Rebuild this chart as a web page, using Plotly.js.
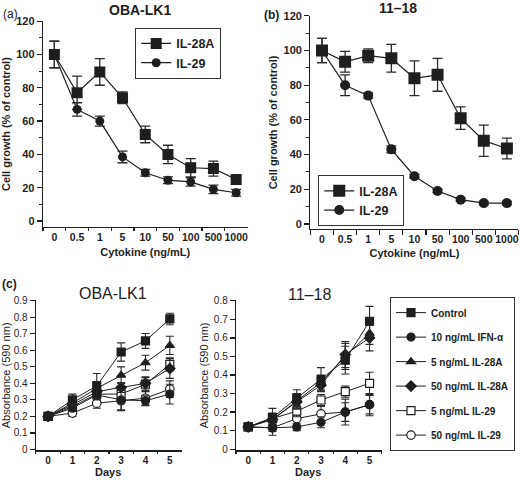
<!DOCTYPE html>
<html><head><meta charset="utf-8">
<script src="https://cdn.plot.ly/plotly-3.0.1.min.js"></script>
<style>html,body{margin:0;padding:0;background:#fff}#chart{width:520px;height:480px}</style>
</head><body><div id="chart"></div>
<script>
// ---- Data ----
const doseLabels = ["0","0.5","1","5","10","50","100","500","1000"];
const aIL28A = [100,77,89.5,74,52,40,32,31.5,25];
const aIL28AErr = [8,10,8,3.5,5,5.5,5.5,4.5,2.5];
const aIL29 = [100,67,60,38.5,29,24.5,23.5,19,17];
const aIL29Err = [8,4,3,3.5,2,2,2.5,2.5,2];
const bIL28A = [100,93.5,97,95.5,84,86,61,48,43.5];
const bIL28AErr = [7,6,4,8,10,9.5,6.5,9,6];
const bIL29 = [100,80,74,43,27.5,19,14,12,12];
const bIL29Err = [7,6,1.5,2,1,1,1,1,1];

const days = ["0","1","2","3","4","5"];
const seriesNames = ["Control","10 ng/mL IFN-α","5 ng/mL IL-28A","50 ng/mL IL-28A","5 ng/mL IL-29","50 ng/mL IL-29"];

// OBA-LK1 absorbance
const c1Control = [0.2,0.30,0.385,0.59,0.657,0.79];
const c1ControlErr = [0,0.035,0.075,0.055,0.045,0.035];
const c1IFN = [0.2,0.25,0.33,0.30,0.295,0.335];
const c1IFNErr = [0,0.02,0.03,0.06,0.03,0.06];
const c1IL28A5 = [0.2,0.28,0.37,0.45,0.525,0.63];
const c1IL28A5Err = [0,0.03,0.04,0.05,0.045,0.055];
const c1IL28A50 = [0.2,0.27,0.35,0.375,0.40,0.49];
const c1IL28A50Err = [0,0.03,0.03,0.03,0.04,0.06];
const c1IL295 = [0.2,0.26,0.335,0.335,0.395,0.515];
const c1IL295Err = [0,0.03,0.03,0.04,0.04,0.04];
const c1IL2950 = [0.2,0.22,0.28,0.295,0.31,0.365];
const c1IL2950Err = [0,0.02,0.03,0.06,0.04,0.05];

// 11-18 absorbance
const c2Control = [0.12,0.17,0.275,0.375,0.48,0.69];
const c2ControlErr = [0,0.05,0.045,0.065,0.075,0.08];
const c2IFN = [0.12,0.115,0.12,0.145,0.20,0.24];
const c2IFNErr = [0,0.02,0.02,0.03,0.05,0.05];
const c2IL28A5 = [0.12,0.16,0.26,0.36,0.50,0.625];
const c2IL28A5Err = [0,0.03,0.04,0.04,0.07,0.06];
const c2IL28A50 = [0.12,0.16,0.255,0.345,0.51,0.60];
const c2IL28A50Err = [0,0.03,0.04,0.03,0.07,0.07];
const c2IL295 = [0.12,0.165,0.205,0.265,0.31,0.355];
const c2IL295Err = [0,0.03,0.03,0.03,0.03,0.06];
const c2IL2950 = [0.12,0.115,0.165,0.19,0.20,0.24];
const c2IL2950Err = [0,0.04,0.04,0.04,0.07,0.06];

// ---- Styling ----
const INK = '#1e1e1e';
const FONT = 'Liberation Sans, Arial, Helvetica, sans-serif';

function doseTrace(y, err, name, sym, size, xa, ya, legend) {
  return {
    type:'scatter', mode:'lines+markers', x: doseLabels, y: y, name: name,
    xaxis: xa, yaxis: ya, legend: legend,
    line:{color:INK, width:1.2},
    marker:{symbol:sym, size:size, color:INK, line:{width:0}},
    error_y:{type:'data', array:err, visible:true, color:'#2a2a2a', thickness:1.3, width:5}
  };
}

const cStyles = [
  {symbol:'square', fill:INK, size:8},
  {symbol:'circle', fill:INK, size:8},
  {symbol:'triangle-up', fill:INK, size:8},
  {symbol:'diamond', fill:INK, size:8},
  {symbol:'square', fill:'#ffffff', size:8},
  {symbol:'circle', fill:'#ffffff', size:8.5}
];

function dayTrace(y, err, idx, xa, ya, show) {
  const s = cStyles[idx];
  return {
    type:'scatter', mode:'lines+markers', x: days, y: y, name: seriesNames[idx],
    xaxis: xa, yaxis: ya, legend:'legend3', showlegend: show,
    legendgroup: 'g' + idx, legendrank: idx + 1,
    line:{color:INK, width:1},
    marker:{symbol:s.symbol, size:s.size, color:s.fill, line:{color:INK, width:1.2}},
    error_y:{type:'data', array:err, visible:true, color:'#2a2a2a', thickness:1.1, width:4}
  };
}

const traces = [
  doseTrace(aIL28A, aIL28AErr, 'IL-28A', 'square', 11, 'x', 'y', 'legend'),
  doseTrace(aIL29, aIL29Err, 'IL-29', 'circle', 9, 'x', 'y', 'legend'),
  doseTrace(bIL28A, bIL28AErr, 'IL-28A', 'square', 12, 'x2', 'y2', 'legend2'),
  doseTrace(bIL29, bIL29Err, 'IL-29', 'circle', 10, 'x2', 'y2', 'legend2'),
];
const c1Sets = [[c1Control,c1ControlErr],[c1IFN,c1IFNErr],[c1IL28A5,c1IL28A5Err],[c1IL28A50,c1IL28A50Err],[c1IL295,c1IL295Err],[c1IL2950,c1IL2950Err]];
const c2Sets = [[c2Control,c2ControlErr],[c2IFN,c2IFNErr],[c2IL28A5,c2IL28A5Err],[c2IL28A50,c2IL28A50Err],[c2IL295,c2IL295Err],[c2IL2950,c2IL2950Err]];
// draw lower series first so the control sits on top
[5,4,3,2,1,0].forEach(i => traces.push(dayTrace(c1Sets[i][0], c1Sets[i][1], i, 'x3', 'y3', false)));
[5,4,3,2,1,0].forEach(i => traces.push(dayTrace(c2Sets[i][0], c2Sets[i][1], i, 'x4', 'y4', true)));

const boldTick = {family:FONT, size:11, color:INK, weight:'bold'};
const boldTickX = {family:FONT, size:10.5, color:INK, weight:'bold'};
const regTick = {family:FONT, size:10, color:INK};

function catX(domain, anchor, range, tickfont, title, titleFont, standoff, ticklen) {
  const ax = {
    domain: domain, anchor: anchor, type:'category', range: range,
    tickson:'boundaries', ticks:'outside', ticklen: ticklen, tickwidth:1.2, tickcolor:INK,
    showline:true, linecolor:INK, linewidth:1.3, showgrid:false, zeroline:false,
    tickfont: tickfont, tickangle:0, fixedrange:true
  };
  if (title) ax.title = {text:title, font:titleFont, standoff:standoff};
  return ax;
}
function linY(domain, anchor, range, dtick, minorDtick, tickfont, title, titleFont, standoff) {
  const ax = {
    domain: domain, anchor: anchor, range: range, dtick: dtick, tick0:0,
    ticks:'outside', ticklen:5, tickwidth:1.2, tickcolor:INK,
    showline:true, linecolor:INK, linewidth:1.3, showgrid:false, zeroline:false,
    tickfont: tickfont, fixedrange:true,
    title:{text:title, font:titleFont, standoff:standoff}
  };
  if (minorDtick) ax.minor = {dtick:minorDtick, ticks:'outside', ticklen:3, tickwidth:1, tickcolor:INK, showgrid:false};
  return ax;
}

const boldTitle = {family:FONT, size:11, color:INK, weight:'bold'};
const regTitle = {family:FONT, size:11, color:INK};
const daysTick = {family:FONT, size:10, color:INK, weight:'bold'};

const layout = {
  width:520, height:480, margin:{l:0,r:0,t:0,b:0},
  paper_bgcolor:'#fff', plot_bgcolor:'rgba(0,0,0,0)',
  font:{family:FONT, color:INK},
  xaxis: catX([0.0827,0.476],'y',[-0.5,8.5],boldTickX,'Cytokine (ng/mL)',boldTitle,6,3),
  yaxis: linY([0.527,0.956],'x',[-3.6,120],20,10,boldTick,'Cell growth (% of control)',boldTitle,3),
  xaxis2: catX([0.597,0.997],'y2',[-0.5,8.5],boldTickX,'Cytokine (ng/mL)',boldTitle,5,5),
  yaxis2: linY([0.523,0.967],'x2',[-2.9,120],20,10,boldTick,'Cell growth (% of control)',boldTitle,3),
  xaxis3: catX([0.069,0.35],'y3',[-0.5,5.5],daysTick,null,null,0,2),
  yaxis3: linY([0.062,0.374],'x3',[-0.005,0.902],0.1,null,regTick,'Absorbance (590 nm)',regTitle,3),
  xaxis4: catX([0.454,0.734],'y4',[-0.5,5.5],daysTick,null,null,0,2),
  yaxis4: linY([0.062,0.374],'x4',[-0.006,0.802],0.1,null,regTick,'Absorbance (590 nm)',regTitle,3),
  legend:{x:0.26,y:0.942,xanchor:'left',yanchor:'top',bgcolor:'#fff',bordercolor:'#333',borderwidth:1,
    font:{family:FONT,size:12.5,color:INK,weight:'bold'},itemwidth:30},
  legend2:{x:0.612,y:0.635,xanchor:'left',yanchor:'top',bgcolor:'#fff',bordercolor:'#333',borderwidth:1,
    font:{family:FONT,size:12.5,color:INK,weight:'bold'},itemwidth:30},
  legend3:{x:0.75,y:0.381,xanchor:'left',yanchor:'top',bgcolor:'#fff',bordercolor:'#333',borderwidth:1,
    font:{family:FONT,size:10,color:INK,weight:'bold'},itemwidth:30,traceorder:'grouped',tracegroupgap:5.5},
  showlegend:true
};
function ann(text, px, py, size, weight, yanchor) {
  return {text:text, x:px/520, y:1-py/480, xref:'paper', yref:'paper', showarrow:false,
    xanchor:'center', yanchor:yanchor || 'middle', font:{family:FONT,size:size,color:INK,weight:weight}};
}
layout.annotations = [
  ann('(a)', 10, 14, 12, 'normal'),
  ann('OBA-LK1', 140, 10, 14, 'bold'),
  ann('(b)', 271, 15, 12, 'bold'),
  ann('11–18', 398, 8, 14, 'bold'),
  ann('(c)', 9, 284, 12, 'bold'),
  ann('OBA-LK1', 113, 293, 16, 'normal'),
  ann('11–18', 309, 294, 16, 'normal'),
  ann('Days', 108, 480, 11, 'bold', 'bottom'),
  ann('Days', 308, 480, 11, 'bold', 'bottom')
];

Plotly.newPlot('chart', traces, layout, {staticPlot:true, displayModeBar:false});
</script>
</body></html>
